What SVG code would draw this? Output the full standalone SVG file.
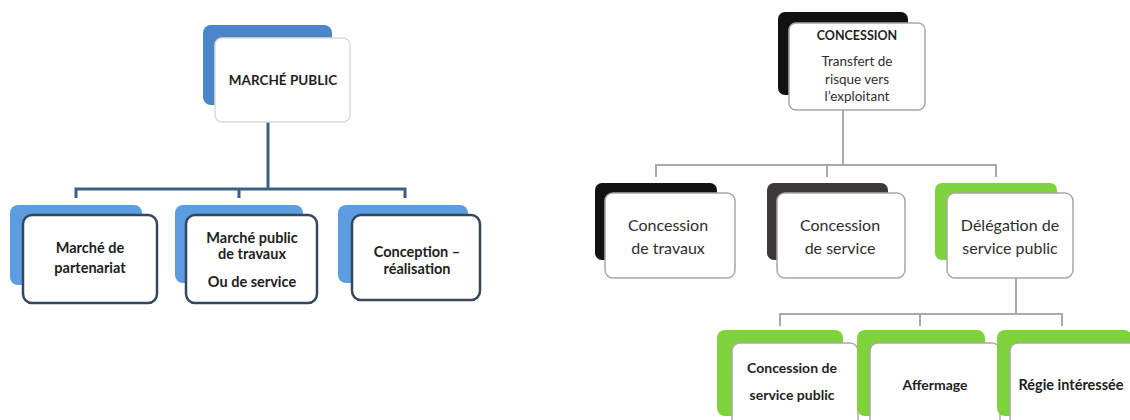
<svg xmlns="http://www.w3.org/2000/svg" width="1130" height="420" viewBox="0 0 1130 420">
<style>
.bgw{fill:#ffffff}
.back-blue{fill:#4a86c8}
.back-lblue{fill:#5b9de0}
.back-black{fill:#121212}
.back-dgrey{fill:#3d3937}
.back-green{fill:#7ed23a}
.front-top{fill:#ffffff;stroke:#dcdcdc;stroke-width:1.5}
.front-left{fill:#ffffff;stroke:#34475c;stroke-width:2.5}
.front-right{fill:#ffffff;stroke:#a8a8a8;stroke-width:1.5}
.conn-left{fill:none;stroke:#3d5f85;stroke-width:3}
.conn-right{fill:none;stroke:#a9a9a9;stroke-width:2}
.tb{font-family:Lato,"Liberation Sans",sans-serif;font-weight:bold;fill:#1e1e1e;text-anchor:middle}
.tr{font-family:Lato,"Liberation Sans",sans-serif;fill:#2e2e2e;text-anchor:middle}
</style>
<rect class="bgw" x="0" y="0" width="1130" height="420"/>

<g id="connectors">
  <path class="conn-left" d="M268 122 V189 M76 198 V189 H405 V198 M239 189 V198"/>
  <path class="conn-right" d="M843 110 V165 M656 177 V165 H996 V177 M827 165 V177"/>
  <path class="conn-right" d="M1016 278 V314 M780 326 V314 H1062 V326 M920 314 V326"/>
</g>

<g id="marche-public">
  <rect class="back-blue" x="203" y="25" width="129" height="80" rx="8"/>
  <rect class="front-top" x="215" y="38" width="135" height="84" rx="7"/>
  <text class="tb" x="283" y="85" font-size="13.5">MARCHÉ PUBLIC</text>
</g>

<g id="marche-partenariat">
  <rect class="back-lblue" x="10" y="205" width="132" height="80" rx="8"/>
  <rect class="front-left" x="23" y="215" width="134" height="88" rx="9"/>
  <text class="tb" x="90" y="253" font-size="14.5">Marché de</text>
  <text class="tb" x="90" y="273" font-size="14.5">partenariat</text>
</g>

<g id="marche-travaux">
  <rect class="back-lblue" x="175" y="205" width="128" height="78" rx="8"/>
  <rect class="front-left" x="186" y="215" width="131" height="88" rx="9"/>
  <text class="tb" x="252" y="243" font-size="14.5">Marché public</text>
  <text class="tb" x="252" y="259" font-size="14.5">de travaux</text>
  <text class="tb" x="252" y="287" font-size="14.5">Ou de service</text>
</g>

<g id="conception">
  <rect class="back-lblue" x="338" y="205" width="130" height="78" rx="8"/>
  <rect class="front-left" x="352" y="215" width="128" height="85" rx="9"/>
  <text class="tb" x="417" y="257" font-size="14.5">Conception –</text>
  <text class="tb" x="417" y="274" font-size="14.5">réalisation</text>
</g>

<g id="concession">
  <rect class="back-black" x="778" y="12" width="130" height="83" rx="7"/>
  <rect class="front-right" x="789" y="23" width="136" height="87" rx="7"/>
  <text class="tb" x="857" y="40" font-size="12.5">CONCESSION</text>
  <text class="tr" x="857" y="66" font-size="13.5">Transfert de</text>
  <text class="tr" x="857" y="84" font-size="13.5">risque vers</text>
  <text class="tr" x="857" y="101" font-size="13.5">l’exploitant</text>
</g>

<g id="concession-travaux">
  <rect class="back-black" x="595" y="183" width="122" height="77" rx="7"/>
  <rect class="front-right" x="605" y="193" width="130" height="85" rx="8"/>
  <text class="tr" x="668" y="231" font-size="16">Concession</text>
  <text class="tr" x="668" y="254" font-size="16">de travaux</text>
</g>

<g id="concession-service">
  <rect class="back-dgrey" x="767" y="183" width="121" height="77" rx="7"/>
  <rect class="front-right" x="777" y="193" width="128" height="85" rx="8"/>
  <text class="tr" x="840" y="231" font-size="16">Concession</text>
  <text class="tr" x="840" y="254" font-size="16">de service</text>
</g>

<g id="delegation">
  <rect class="back-green" x="935" y="183" width="122" height="77" rx="7"/>
  <rect class="front-right" x="947" y="193" width="126" height="85" rx="8"/>
  <text class="tr" x="1010" y="231" font-size="16">Délégation de</text>
  <text class="tr" x="1010" y="254" font-size="16">service public</text>
</g>

<g id="concession-sp">
  <rect class="back-green" x="717" y="330" width="126" height="86" rx="8"/>
  <rect class="front-right" x="732" y="343" width="126" height="90" rx="8"/>
  <text class="tb" x="792" y="373" font-size="14">Concession de</text>
  <text class="tb" x="792" y="400" font-size="14">service public</text>
</g>

<g id="affermage">
  <rect class="back-green" x="857" y="330" width="128" height="86" rx="8"/>
  <rect class="front-right" x="870" y="343" width="130" height="90" rx="8"/>
  <text class="tb" x="935" y="390" font-size="14">Affermage</text>
</g>

<g id="regie">
  <rect class="back-green" x="997" y="330" width="135" height="86" rx="8"/>
  <rect class="front-right" x="1010" y="343" width="130" height="90" rx="8"/>
  <text class="tb" x="1071" y="390" font-size="14.5">Régie intéressée</text>
</g>
</svg>
